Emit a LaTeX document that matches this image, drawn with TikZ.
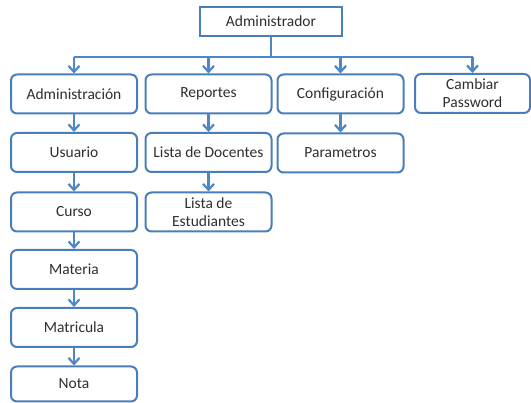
\documentclass[tikz,border=0pt]{standalone}
\usepackage{fontspec}
\setmainfont{Carlito}
\usetikzlibrary{arrows.meta,positioning,calc}
\definecolor{boxblue}{HTML}{4A7EBB}
\definecolor{linkblue}{HTML}{4F86C6}

\begin{document}
\begin{tikzpicture}[x=1pt, y=-1pt, >={Straight Barb[length=6pt,width=11pt]},
  menu/.style={draw=boxblue, line width=2pt, rounded corners=6pt,
    minimum width=126pt, minimum height=39pt, inner sep=2pt, align=center,
    text=black!82, font=\fontsize{15.5}{16}\selectfont},
  link/.style={->, draw=linkblue, line width=2.2pt},
  bar/.style={draw=linkblue, line width=2.2pt}]
  \useasboundingbox (0,0) rectangle (531,403);
  % top
  \node[menu, rounded corners=0pt, minimum width=142pt, minimum height=29pt] (adm) at (271,21.5) {Administrador};
  % first row
  \node[menu] (admin) at (74,94) {Administración};
  \node[menu] (rep) at (208.5,94) {Reportes};
  \node[menu] (conf) at (340.5,94) {Configuración};
  \node[menu, minimum width=115pt] (pass) at (472.5,93.5) {Cambiar\\[2pt]Password};
  % Administración column
  \node[menu] (usu) at (74,152.5) {Usuario};
  \node[menu] (cur) at (74,212) {Curso};
  \node[menu] (mat) at (74,269.5) {Materia};
  \node[menu] (matr) at (74,327.5) {Matricula};
  \node[menu, minimum height=35pt] (nota) at (74,384) {Nota};
  % Reportes column
  \node[menu] (doc) at (208.5,152.5) {Lista de Docentes};
  \node[menu] (est) at (208.5,212) {Lista de\\[2pt]Estudiantes};
  % Configuración column
  \node[menu] (par) at (340.5,153) {Parametros};
  % connectors
  \coordinate (bus) at ($(adm.south)+(0,20)$);
  \draw[bar] (adm.south) -- (bus);
  \draw[bar] (bus -| admin.north) -- (bus -| pass.north);
  \draw[link] (bus -| admin.north) -- (admin.north);
  \draw[link] (bus -| rep.north) -- (rep.north);
  \draw[link] (bus -| conf.north) -- (conf.north);
  \draw[link] (bus -| pass.north) -- (pass.north);
  \draw[link] (admin) -- (usu);
  \draw[link] (usu) -- (cur);
  \draw[link] (cur) -- (mat);
  \draw[link] (mat) -- (matr);
  \draw[link] (matr) -- (nota);
  \draw[link] (rep) -- (doc);
  \draw[link] (doc) -- (est);
  \draw[link] (conf) -- (par);
\end{tikzpicture}
\end{document}
